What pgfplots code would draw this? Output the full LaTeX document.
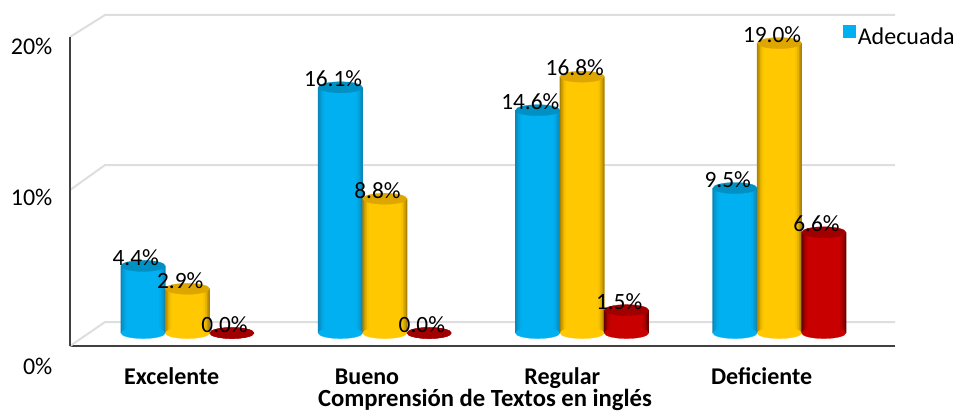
\documentclass[border=0pt]{standalone}
\usepackage{pgfplots}
\usepackage{pgfplotstable}
\usepackage{fontspec}
\setmainfont{Carlito}
\pgfplotsset{compat=1.18}

\definecolor{blueE}{HTML}{0A86B8}
\definecolor{blueM}{HTML}{00B0F0}
\definecolor{blueT}{HTML}{0090C4}
\definecolor{goldE}{HTML}{AD8300}
\definecolor{goldM}{HTML}{FFC800}
\definecolor{goldT}{HTML}{DDA600}
\definecolor{redE}{HTML}{660000}
\definecolor{redM}{HTML}{C80000}
\definecolor{redT}{HTML}{A00000}
\definecolor{wallc}{HTML}{DEDEDE}
\definecolor{axisc}{HTML}{404040}

% x: group position, offset for the bar; base: foot of the cylinder
\pgfplotstableread{
x y base
-0.225 4.4 0
0.775 16.1 0
1.775 14.6 0
2.775 9.5 0
}\adecuada
\pgfplotstableread{
x y base
0 2.9 0
1 8.8 0
2 16.8 0
3 19.0 0
}\medio
\pgfplotstableread{
x y base
0.225 0.0 0
1.225 0.0 0
2.225 1.5 0
3.225 6.6 0
}\bajo

\pgfplotsset{
  cyl/.style 2 args={ybar, bar width=#1, bar shift=0pt, draw=none, fill=#2, forget plot},
  cap/.style={only marks, mark=*, mark size=16.6pt, mark options={draw=#1, fill=#1, line width=0.2pt, yscale=0.25}, forget plot},
  vals/.style={only marks, mark=none, forget plot, point meta=y,
    nodes near coords={\pgfmathprintnumber[fixed,fixed zerofill,precision=1,assume math mode=true]{\pgfplotspointmeta}\%},
    nodes near coords style={anchor=base, inner sep=0pt, xshift=-5.5pt, yshift=0.5pt, font=\fontsize{17.5}{17.5}\selectfont, text=black}},
}

% one cylinder series: nested bars from the dark edge to the light middle
\newcommand{\cylinders}[5][]{%
  \addplot[cap=#3M] table[x=x, y=base] {#2};
  \addplot[cyl={33.75pt}{#3E}, #1] table[x=x, y=y] {#2};
  \addplot[cyl={31.5pt}{#3E!65!#3M}, #1] table[x=x, y=y] {#2};
  \addplot[cyl={29.25pt}{#3E!35!#3M}, #1] table[x=x, y=y] {#2};
  \addplot[cyl={27pt}{#3E!12!#3M}, #1] table[x=x, y=y] {#2};
  \addplot[cyl={24pt}{#3M}, #1] table[x=x, y=y] {#2};
  \addplot[cap=#3T] table[x=x, y=y] {#2};
}

\begin{document}
\begin{tikzpicture}
\begin{axis}[
    scale only axis,
    width=618.75pt, height=238.65pt,
    xmin=-0.5955, xmax=3.586,
    ymin=-0.85, ymax=20,
    clip=false,
    axis x line=bottom, axis y line=left,
    x axis line style={-, draw=axisc, line width=1.4pt},
    y axis line style={draw=none},
    major tick length=0pt,
    xtick={-0.08,0.91,1.90,2.91},
    xticklabels={Excelente,Bueno,Regular,Deficiente},
    xticklabel style={anchor=base, inner sep=0pt, yshift=-28.5pt, font=\fontsize{18}{18}\selectfont\bfseries},
    ytick={0,10,20},
    yticklabels={\raisebox{-11.1pt}{0\%},\raisebox{1.2pt}{10\%},20\%},
    yticklabel style={anchor=base east, inner sep=0pt, xshift=-13pt, yshift=-19.65pt, font=\fontsize{18}{18}\selectfont},
    xlabel={Comprensión de Textos en inglés},
    xlabel style={at={(axis description cs:0.503,-0.17)}, anchor=center, inner sep=0pt, font=\fontsize{18.5}{18.5}\selectfont\bfseries},
    legend style={at={(axis description cs:0.937,0.971)}, anchor=west, draw=none, fill=none, inner sep=0pt, font=\fontsize{18}{18}\selectfont,
      legend cell align=left},
    legend image code/.code={\fill[blueM] (0pt,0pt) rectangle (8.5pt,8.5pt);},
]
% back wall
\addplot[wallc, line width=1.5pt, forget plot] coordinates {(-0.5955,-0.85) (-0.418,0.72) (3.586,0.72)};
\addplot[wallc, line width=1.5pt, forget plot] coordinates {(-0.5955,9.37) (-0.418,11.01) (3.586,11.01)};
\addplot[wallc, line width=1.5pt, forget plot] coordinates {(-0.5955,19.40) (-0.418,20.84) (3.586,20.84)};
\addplot[axisc, line width=1.4pt, forget plot] coordinates {(-0.5955,-0.85) (-0.5955,19.40)};

\addplot[only marks, mark=none] coordinates {(0,0)};

\cylinders{\adecuada}{blue}{}{}
\cylinders{\medio}{gold}{}{}
% red, the zero rows are only a flat disc
\cylinders[restrict y to domain=0.1:30]{\bajo}{red}{}{}
% labels last so no bar covers them
\addplot[vals] table[x=x, y=y] {\adecuada};
\addplot[vals] table[x=x, y=y] {\medio};
\addplot[vals] table[x=x, y=y] {\bajo};

\legend{Adecuada}
% page size: 958x412 px at 0.75pt
\path (axis cs:-0.5955,-0.85) ++(-52.5pt,-49.5pt) (axis cs:-0.5955,-0.85) ++(666.0pt,259.5pt);
\end{axis}
\end{tikzpicture}
\end{document}
